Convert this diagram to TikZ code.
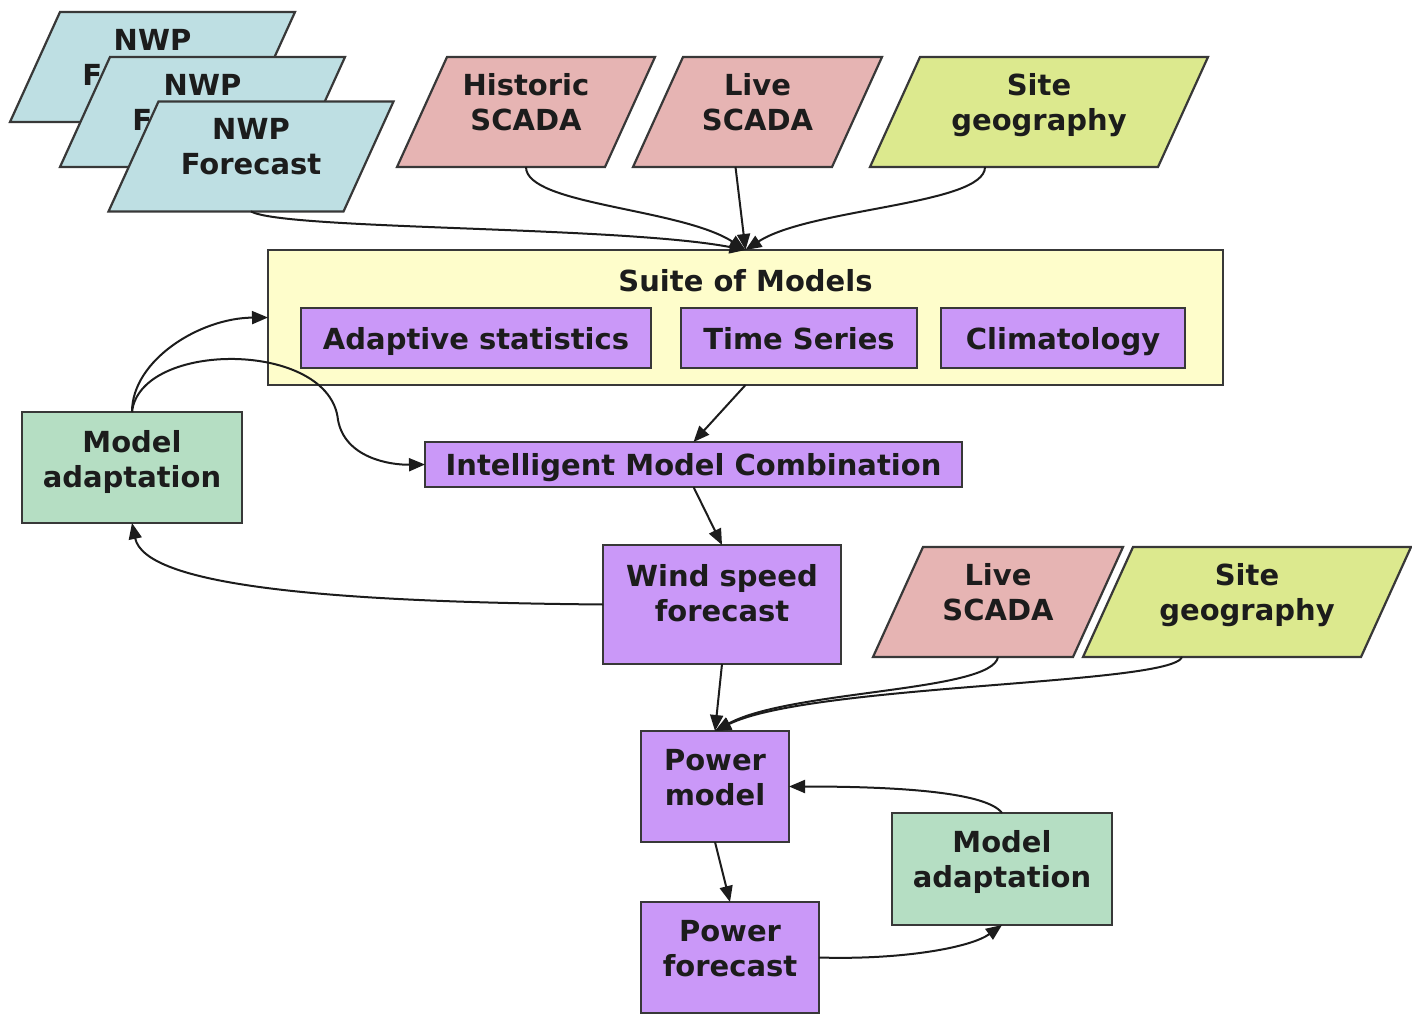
\documentclass[tikz,border=0pt]{standalone}
\usepackage{fontspec}
\setmainfont{DejaVu Sans}
\usetikzlibrary{arrows.meta,calc}

\definecolor{ink}{HTML}{1C1C1C}
\definecolor{edge}{HTML}{383838}
\definecolor{nwpblue}{HTML}{BEDFE3}
\definecolor{scadapink}{HTML}{E6B4B3}
\definecolor{geolime}{HTML}{DCE98E}
\definecolor{suiteyellow}{HTML}{FEFDCB}
\definecolor{modelpurple}{HTML}{CA98F8}
\definecolor{adaptgreen}{HTML}{B5DEC3}

\tikzset{
  outline/.style={draw=edge, line width=2.2pt},
  slotbox/.style={draw=none, inner sep=0pt, outer sep=0pt},
  lbl/.style={font=\bfseries\fontsize{29}{35}\selectfont, align=center, text=ink,
              inner sep=0pt, text depth=0pt},
  procbox/.style={outline, inner sep=0pt, outer sep=0pt},
  flow/.style={draw=ink, line width=2pt, -{Triangle[length=16pt,width=13pt]}},
}

% slanted data input: name, centre x, centre y, mid width, fill, text
\newcommand\datainput[6]{%
  \node[slotbox, minimum width=#4, minimum height=110] (#1) at (#2,#3) {};
  \draw[outline, fill=#5]
    ($(#1.south west)+(-25,0)$) -- ($(#1.north west)+(25,0)$) --
    ($(#1.north east)+(25,0)$) -- ($(#1.south east)+(-25,0)$) -- cycle;
  \node[lbl] at ($(#1)+(0,-10)$) {#6};
}

% process box: name, centre x, centre y, width, height, fill, text, text lift
\newcommand\processbox[8]{%
  \node[procbox, fill=#6, minimum width=#4, minimum height=#5] (#1) at (#2,#3) {};
  \node[lbl] at ($(#1)+(0,#8)$) {#7};
}

\begin{document}
\begin{tikzpicture}[x=1pt, y=-1pt]
  \fill[white] (0,0) rectangle (1412,1016);
  \useasboundingbox (0,0) rectangle (1412,1016);

  % forecast inputs, stacked back to front
  \datainput{nwpa}{152.5}{67}{235}{nwpblue}{NWP\\Forecast}
  \datainput{nwpb}{202.5}{112}{235}{nwpblue}{NWP\\Forecast}
  \datainput{nwpc}{251}{156.5}{235}{nwpblue}{NWP\\Forecast}

  \datainput{hist}{526}{112}{208}{scadapink}{Historic\\SCADA}
  \datainput{liveA}{757.5}{112}{199}{scadapink}{Live\\SCADA}
  \datainput{siteA}{1039}{112}{288}{geolime}{Site\\geography}

  % suite of models
  \node[procbox, fill=suiteyellow, minimum width=955, minimum height=135] (suite) at (745.5,317.5) {};
  \node[lbl] (suitetitle) at (745.5,280) {Suite of Models};
  \node[procbox, fill=modelpurple, minimum width=350, minimum height=60, lbl] (adapt) at (476,338) {Adaptive statistics};
  \node[procbox, fill=modelpurple, minimum width=236, minimum height=60, lbl] (tseries) at (799,338) {Time Series};
  \node[procbox, fill=modelpurple, minimum width=244, minimum height=60, lbl] (clim) at (1063,338) {Climatology};

  \node[procbox, fill=modelpurple, minimum width=537, minimum height=45, lbl] (imc) at (693.5,464.5) {Intelligent Model Combination};

  \processbox{madaptL}{132}{467.5}{220}{111}{adaptgreen}{Model\\adaptation}{-9}
  \processbox{wind}{722}{604.5}{238}{119}{modelpurple}{Wind speed\\forecast}{-12}

  \datainput{liveB}{998}{602}{200}{scadapink}{Live\\SCADA}
  \datainput{siteB}{1247}{602}{278}{geolime}{Site\\geography}

  \processbox{pmodel}{715}{786.5}{148}{111}{modelpurple}{Power\\model}{-9}
  \processbox{madaptR}{1002}{869}{220}{112}{adaptgreen}{Model\\adaptation}{-10}
  \processbox{pfore}{730}{957.5}{178}{111}{modelpurple}{Power\\forecast}{-9}

  % inputs converging on the suite
  \draw[flow] (nwpc.south) .. controls (285,230) and (620,226) .. (suite.north);
  \draw[flow] (hist.south) .. controls (526,205) and (680,208) .. (suite.north);
  \draw[flow] ($(liveA.south)+(-22,0)$) -- (suite.north);
  \draw[flow] ($(siteA.south)+(-54,0)$) .. controls (985,205) and (810,208) .. (suite.north);

  % main chain
  \draw[flow] (suite.south) -- (imc.north);
  \draw[flow] (imc.south) -- (wind.north);
  \draw[flow] (wind.south) -- (pmodel.north);
  \draw[flow] (pmodel.south) -- (pfore.north);

  % wind speed adaptation loop
  \draw[flow] (wind.west) .. controls (320,602) and (145,585) .. (madaptL.south);
  \draw[flow] (madaptL.north) .. controls (132,360) and (200,318) .. (suite.west);
  \draw[flow] (madaptL.north) .. controls (140,340) and (330,340) .. (338,420)
                              .. controls (345,458) and (390,465) .. (imc.west);

  % live inputs to the power model
  \draw[flow] (liveB.south) .. controls (992,692) and (790,690) .. (pmodel.north);
  \draw[flow] ($(siteB.south)+(-65,0)$) .. controls (1172,685) and (810,684) .. (pmodel.north);

  % power adaptation loop
  \draw[flow] (madaptR.north) .. controls (985,790) and (880,786.5) .. (pmodel.east);
  \draw[flow] (pfore.east) .. controls (900,960) and (970,948) .. (madaptR.south);
\end{tikzpicture}
\end{document}
